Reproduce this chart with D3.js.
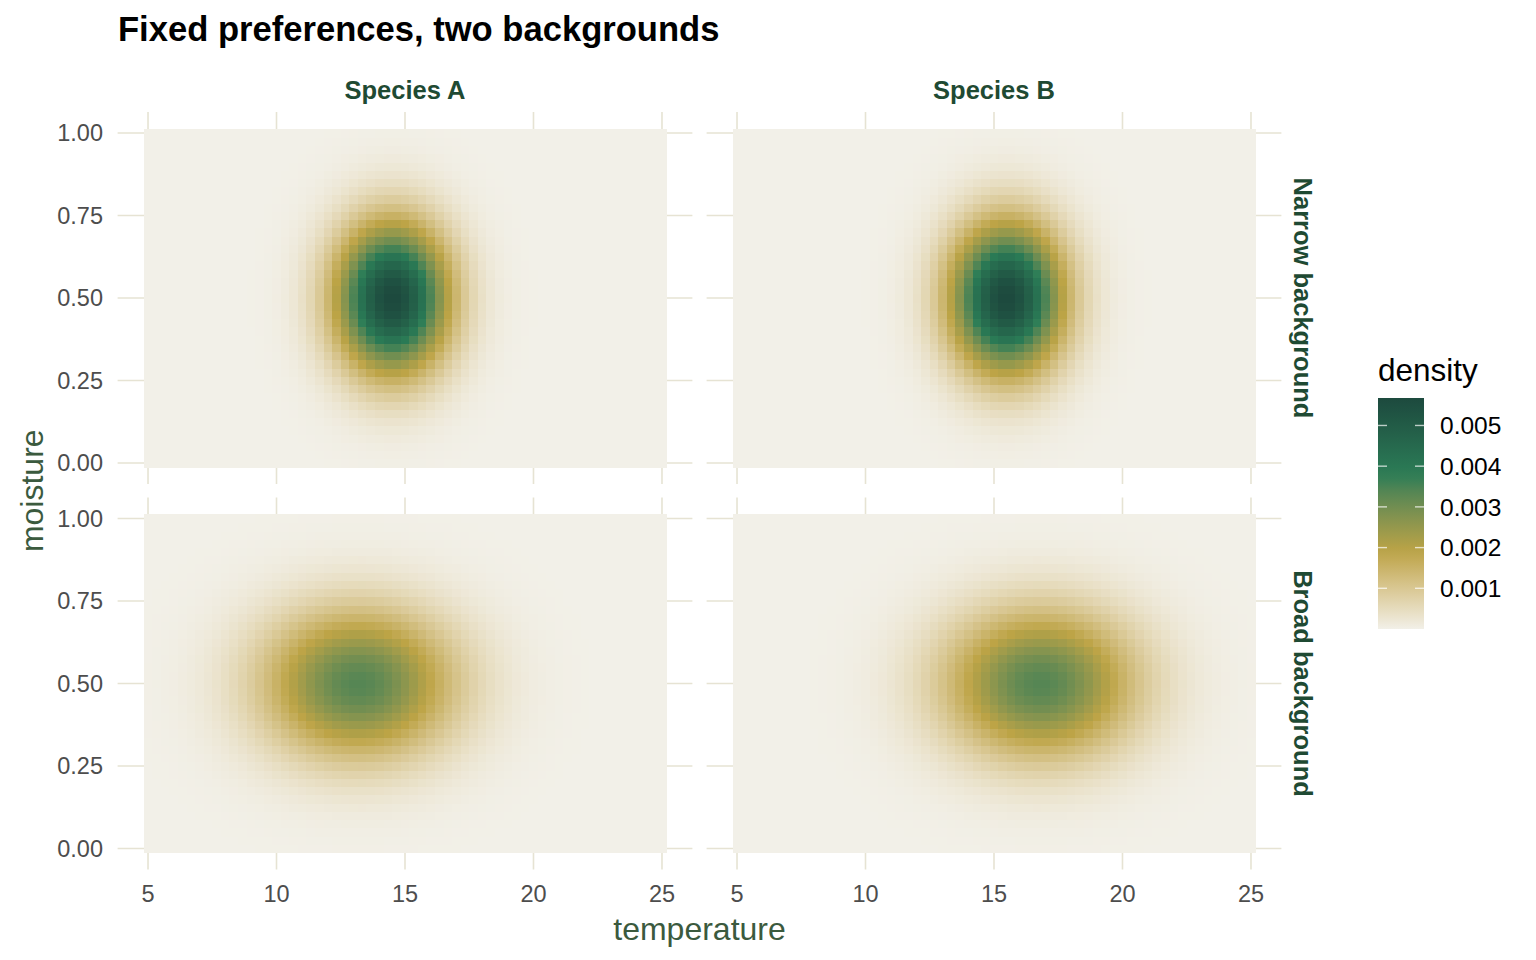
<!DOCTYPE html>
<html>
<head>
<meta charset="utf-8">
<script src="https://cdn.jsdelivr.net/npm/d3@7"></script>
<style>
  html, body { margin: 0; padding: 0; background: #ffffff; }
  svg { display: block; font-family: "Liberation Sans", Arial, Helvetica, sans-serif; }
</style>
</head>
<body>
<svg id="chart" width="1536" height="960"></svg>
<script>
// ---------------- data ----------------
const speciesLabels = ["Species A", "Species B"];
const backgroundLabels = ["Narrow background", "Broad background"];
// grid of the raster: temperature 5..25 step 1/3, moisture 0..1 step 0.025
const temperatureRange = [5, 25];
const temperatureSteps = 60;
const moistureRange = [0, 1];
const moistureSteps = 40;
// peak location / spread of the density in each panel (row = background, col = species)
const peakTemperature = [[14.5, 15.5], [13.2, 16.8]];
const spreadTemperature = [[1.5, 1.5], [2.55, 2.55]];
const peakMoisture = [[0.5, 0.5], [0.5, 0.5]];
const spreadMoisture = [[0.155, 0.155], [0.155, 0.155]];
// axis ticks
const xTicks = [5, 10, 15, 20, 25];
const yTicks = [0, 0.25, 0.5, 0.75, 1];
const legendTicks = [0.001, 0.002, 0.003, 0.004, 0.005];
// fill palette (low -> high)
const palette = ["#f2f0e8", "#bda446", "#2b7d57", "#1d4a3e"];

// ---------------- build cells ----------------
const dT = (temperatureRange[1] - temperatureRange[0]) / temperatureSteps;
const dM = (moistureRange[1] - moistureRange[0]) / moistureSteps;
const temps = d3.range(temperatureSteps + 1).map(i => temperatureRange[0] + i * dT);
const moists = d3.range(moistureSteps + 1).map(j => moistureRange[0] + j * dM);

const panels = [];
for (let r = 0; r < 2; r++) {
  for (let c = 0; c < 2; c++) {
    const cells = [];
    for (const t of temps) for (const m of moists) {
      const zt = (t - peakTemperature[r][c]) / spreadTemperature[r][c];
      const zm = (m - peakMoisture[r][c]) / spreadMoisture[r][c];
      cells.push({ t, m, w: Math.exp(-0.5 * (zt * zt + zm * zm)) });
    }
    const tot = d3.sum(cells, d => d.w);
    cells.forEach(d => d.density = d.w / tot);
    panels.push({ r, c, cells });
  }
}
const maxD = d3.max(panels, p => d3.max(p.cells, d => d.density));
const minD = d3.min(panels, p => d3.min(p.cells, d => d.density));

const color = d3.scaleLinear()
  .domain(palette.map((_, i) => minD + (maxD - minD) * i / (palette.length - 1)))
  .range(palette)
  .interpolate(d3.interpolateLab);

// ---------------- layout ----------------
const svg = d3.select("#chart");
const panelW = 574.8, panelH = 372;
const colLeft = [117.6, 706.6];
const rowTop = [112, 497.5];
const expT = (temperatureRange[1] - temperatureRange[0] + dT) * 0.05 + dT / 2;
const expM = (moistureRange[1] - moistureRange[0] + dM) * 0.05 + dM / 2;
const gridColor = "#e6e3d3";

svg.append("text")
  .attr("x", 118).attr("y", 41)
  .attr("font-size", 34.6).attr("font-weight", "bold").attr("fill", "#000")
  .text("Fixed preferences, two backgrounds");

panels.forEach(p => {
  const x = d3.scaleLinear()
    .domain([temperatureRange[0] - expT, temperatureRange[1] + expT])
    .range([colLeft[p.c], colLeft[p.c] + panelW]);
  const y = d3.scaleLinear()
    .domain([moistureRange[0] - expM, moistureRange[1] + expM])
    .range([rowTop[p.r] + panelH, rowTop[p.r]]);
  const g = svg.append("g");
  // grid
  g.selectAll("line.vx").data(xTicks).join("line")
    .attr("x1", d => x(d)).attr("x2", d => x(d))
    .attr("y1", rowTop[p.r]).attr("y2", rowTop[p.r] + panelH)
    .attr("stroke", gridColor).attr("stroke-width", 1.6);
  g.selectAll("line.hy").data(yTicks).join("line")
    .attr("y1", d => y(d)).attr("y2", d => y(d))
    .attr("x1", colLeft[p.c]).attr("x2", colLeft[p.c] + panelW)
    .attr("stroke", gridColor).attr("stroke-width", 1.6);
  // raster
  g.selectAll("rect").data(p.cells).join("rect")
    .attr("x", d => x(d.t - dT / 2))
    .attr("y", d => y(d.m + dM / 2))
    .attr("width", x(dT) - x(0) + 0.6)
    .attr("height", y(0) - y(dM) + 0.6)
    .attr("fill", d => color(d.density))
    .attr("shape-rendering", "crispEdges");

  // x tick labels (bottom row)
  if (p.r === 1) {
    g.selectAll("text.xt").data(xTicks).join("text")
      .attr("x", d => x(d)).attr("y", 902)
      .attr("text-anchor", "middle").attr("font-size", 23.5).attr("fill", "#4d4d4d")
      .text(d => d3.format("d")(d));
  }
  // y tick labels (left column)
  if (p.c === 0) {
    g.selectAll("text.yt").data(yTicks).join("text")
      .attr("x", 103).attr("y", d => y(d)).attr("dy", "0.36em")
      .attr("text-anchor", "end").attr("font-size", 23.5).attr("fill", "#4d4d4d")
      .text(d => d3.format(".2f")(d));
  }
  // strips
  if (p.r === 0) {
    svg.append("text")
      .attr("x", colLeft[p.c] + panelW / 2).attr("y", 90).attr("dy", "0.36em")
      .attr("text-anchor", "middle").attr("font-size", 25.5).attr("font-weight", "bold")
      .attr("fill", "#1f4a33").text(speciesLabels[p.c]);
  }
  if (p.c === 1) {
    const cy = rowTop[p.r] + panelH / 2;
    svg.append("text")
      .attr("transform", `translate(1303,${cy}) rotate(90)`)
      .attr("dy", "0.36em")
      .attr("text-anchor", "middle").attr("font-size", 25.5).attr("font-weight", "bold")
      .attr("fill", "#1f4a33").text(backgroundLabels[p.r]);
  }
});

// axis titles
svg.append("text")
  .attr("x", (colLeft[0] + colLeft[1] + panelW) / 2).attr("y", 928).attr("dy", "0.36em")
  .attr("text-anchor", "middle").attr("font-size", 32).attr("fill", "#3b5a3e")
  .text("temperature");
svg.append("text")
  .attr("transform", `translate(31,${(rowTop[0] + rowTop[1] + panelH) / 2}) rotate(-90)`)
  .attr("dy", "0.36em")
  .attr("text-anchor", "middle").attr("font-size", 32).attr("fill", "#3b5a3e")
  .text("moisture");

// ---------------- legend ----------------
const lg = svg.append("g");
const barX = 1378, barW = 46, barTop = 398, barH = 231;
const ly = d3.scaleLinear().domain([minD, maxD]).range([barTop + barH, barTop]);
const defs = svg.append("defs");
const grad = defs.append("linearGradient").attr("id", "lgrad")
  .attr("x1", 0).attr("y1", 1).attr("x2", 0).attr("y2", 0);
d3.range(0, 1.0001, 0.05).forEach(f => {
  grad.append("stop").attr("offset", f).attr("stop-color", color(minD + f * (maxD - minD)));
});
lg.append("text").attr("x", barX).attr("y", 381)
  .attr("font-size", 31.5).attr("fill", "#000").text("density");
lg.append("rect").attr("x", barX).attr("y", barTop).attr("width", barW).attr("height", barH)
  .attr("fill", "url(#lgrad)");
legendTicks.forEach(v => {
  const yy = ly(v);
  lg.append("line").attr("x1", barX).attr("x2", barX + 9).attr("y1", yy).attr("y2", yy)
    .attr("stroke", "#ffffff").attr("stroke-opacity", 0.7).attr("stroke-width", 1.4);
  lg.append("line").attr("x1", barX + barW - 9).attr("x2", barX + barW).attr("y1", yy).attr("y2", yy)
    .attr("stroke", "#ffffff").attr("stroke-opacity", 0.7).attr("stroke-width", 1.4);
  lg.append("text").attr("x", 1440).attr("y", yy).attr("dy", "0.36em")
    .attr("font-size", 24.5).attr("fill", "#000").text(d3.format(".3f")(v));
});
</script>
</body>
</html>
